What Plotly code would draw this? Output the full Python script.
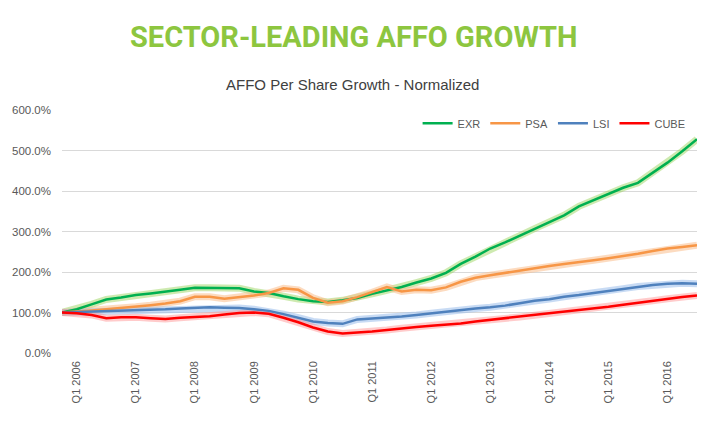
import plotly.graph_objects as go

# Quarter categories Q4 2005 .. Q3 2016
quarters = ["Q4 2005"] + [f"Q{q} {y}" for y in range(2006, 2017) for q in (1, 2, 3, 4)][:43]
tick_labels = [f"Q1 {y}" for y in range(2006, 2017)]

exr = [100, 108, 120, 132, 137, 143, 147, 151, 156, 161, 161, 161, 160, 152, 148, 140,
       133, 128, 126, 130, 136, 146, 155, 163, 174, 184, 198, 220, 238, 258, 273, 290,
       307, 322, 340, 362, 378, 393, 408, 420, 445, 470, 498, 528]
psa = [100, 102, 105, 108, 111, 114, 118, 122, 128, 139, 139, 134, 138, 142, 148, 160,
       156, 136, 124, 128, 138, 150, 163, 152, 156, 155, 162, 176, 186, 192, 198, 204,
       210, 215, 220, 224, 229, 234, 239, 245, 252, 258, 262, 266]
lsi = [100, 101, 102, 104, 105, 106, 107, 108, 110, 112, 113, 112, 111, 108, 104, 96,
       87, 78, 74, 72, 83, 85, 87, 90, 94, 98, 103, 107, 110, 113, 117, 123,
       129, 133, 139, 143, 148, 153, 159, 164, 168, 171, 172, 171]
cube = [100, 98, 94, 86, 88, 88, 86, 84, 87, 89, 91, 95, 99, 100, 97, 87,
        76, 63, 53, 48, 50, 53, 57, 61, 64, 67, 70, 73, 78, 82, 85, 89,
        93, 97, 101, 105, 110, 114, 119, 124, 129, 134, 138, 142]

series = [
    ("EXR", exr, "#00B050", "rgba(146,208,80,0.45)"),
    ("PSA", psa, "#F79646", "rgba(250,190,140,0.55)"),
    ("LSI", lsi, "#4F81BD", "rgba(155,190,235,0.55)"),
    ("CUBE", cube, "#FF0000", "rgba(255,140,140,0.45)"),
]

fig = go.Figure()
for name, vals, col, glow in series:
    fig.add_trace(go.Scatter(x=quarters, y=vals, mode="lines", showlegend=False,
                             hoverinfo="skip", line=dict(color=glow, width=7)))
for name, vals, col, glow in series:
    fig.add_trace(go.Scatter(x=quarters, y=vals, mode="lines", name=name,
                             line=dict(color=col, width=2.5)))

fig.update_layout(
    width=709, height=422,
    margin=dict(l=60, r=12, t=110, b=69),
    paper_bgcolor="white", plot_bgcolor="white",
    font=dict(family="Liberation Sans, Arial, sans-serif", color="#595959", size=11),
    showlegend=True,
    legend=dict(orientation="h", x=0.56, y=0.945, xanchor="left", yanchor="middle",
                font=dict(size=11, color="#595959"), bgcolor="rgba(0,0,0,0)",
                itemwidth=30, tracegroupgap=0),
    annotations=[
        dict(text="<b>SECTOR-LEADING AFFO GROWTH</b>", xref="paper", yref="paper",
             x=0.459, y=1.3, xanchor="center", yanchor="middle", showarrow=False,
             font=dict(family="Roboto, sans-serif", size=29, color="#8DC63F")),
        dict(text="AFFO Per Share Growth - Normalized", xref="paper", yref="paper",
             x=0.458, y=1.105, xanchor="center", yanchor="middle", showarrow=False,
             font=dict(family="Liberation Sans, Arial, sans-serif", size=15, color="#404040")),
    ],
)
fig.update_xaxes(type="category", range=[0, 43], tickvals=tick_labels, ticktext=tick_labels,
                 tickangle=-90, showgrid=False, showline=False, ticks="",
                 ticklabelstandoff=5,
                 tickfont=dict(size=11, color="#595959"), zeroline=False)
fig.update_yaxes(range=[0, 600], dtick=100, tickformat=".1f", ticksuffix="%",
                 showgrid=True, gridcolor="#D9D9D9", gridwidth=1, zeroline=False,
                 showline=False, ticks="", ticklabelstandoff=10,
                 tickfont=dict(size=11.5, color="#595959"))

fig.write_html("out.html")
